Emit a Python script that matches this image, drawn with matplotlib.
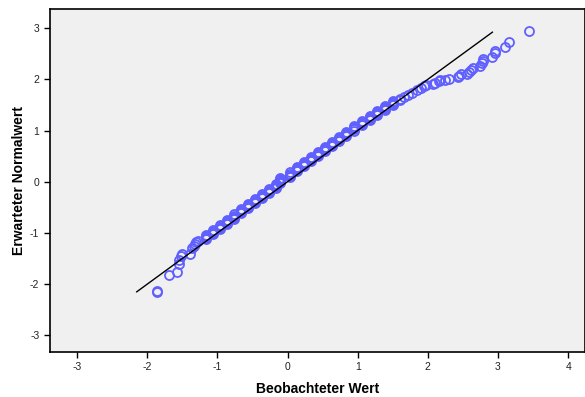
import matplotlib.pyplot as plt
import numpy as np

plt.rcParams['font.family'] = ['Liberation Sans', 'DejaVu Sans']
plt.rcParams['axes.unicode_minus'] = False

# Q-Q-Diagramm: beobachtete Werte gegen erwartete Normalwerte
# unteres Ende (einzelne Punkte)
obs_low = [-1.86, -1.86, -1.69, -1.57, -1.55, -1.55, -1.52, -1.50, -1.39, -1.36, -1.34, -1.32, -1.30, -1.27]
exp_low = [-2.14, -2.15, -1.83, -1.76, -1.61, -1.52, -1.45, -1.42, -1.42, -1.30, -1.26, -1.22, -1.18, -1.15]

# dichter Mittelteil: gleiche beobachtete Werte (Bindungen) mit mehreren erwarteten Werten
obs_mid = [-1.16, -1.06, -0.96, -0.86, -0.76, -0.66, -0.56, -0.46, -0.36, -0.26, -0.16, -0.11,
           0.03, 0.13, 0.23, 0.33, 0.43, 0.53, 0.63, 0.73, 0.84, 0.95, 1.06, 1.17, 1.28, 1.39,
           1.50, 1.60]
exp_mid = [[-1.12, -1.10, -1.08, -1.06, -1.04],
           [-1.02, -1.00, -0.98, -0.96, -0.94],
           [-0.92, -0.90, -0.88, -0.86, -0.84],
           [-0.82, -0.80, -0.78, -0.76, -0.74],
           [-0.72, -0.70, -0.68, -0.66, -0.64],
           [-0.62, -0.60, -0.58, -0.56, -0.54],
           [-0.52, -0.50, -0.48, -0.46, -0.44],
           [-0.42, -0.40, -0.38, -0.36, -0.34],
           [-0.32, -0.30, -0.28, -0.26, -0.24],
           [-0.22, -0.20, -0.18, -0.16, -0.14],
           [-0.12, -0.10, -0.08, -0.06, -0.04],
           [-0.02, 0.00, 0.02, 0.04, 0.06, 0.08],
           [0.10, 0.12, 0.14, 0.16, 0.18],
           [0.20, 0.22, 0.24, 0.26, 0.28],
           [0.30, 0.32, 0.34, 0.36, 0.38],
           [0.40, 0.42, 0.44, 0.46, 0.48],
           [0.50, 0.52, 0.54, 0.56, 0.58],
           [0.60, 0.62, 0.64, 0.66, 0.68],
           [0.70, 0.72, 0.74, 0.76, 0.78],
           [0.80, 0.82, 0.84, 0.86, 0.88],
           [0.90, 0.92, 0.94, 0.96, 0.98],
           [1.00, 1.02, 1.04, 1.06, 1.08],
           [1.10, 1.12, 1.14, 1.16, 1.18],
           [1.20, 1.22, 1.24, 1.26, 1.28],
           [1.30, 1.32, 1.34, 1.36, 1.38],
           [1.40, 1.42, 1.44, 1.46, 1.48],
           [1.50, 1.52, 1.54, 1.56, 1.58],
           [1.60, 1.62]]

# oberes Ende (einzelne Punkte)
obs_high = [1.66, 1.72, 1.78, 1.84, 1.90, 1.94, 1.98, 2.07, 2.10, 2.16, 2.18, 2.24, 2.30,
            2.43, 2.45, 2.47, 2.56, 2.59, 2.61, 2.64, 2.74, 2.77, 2.78, 2.78, 2.92, 2.95,
            2.96, 3.10, 3.16, 3.44]
exp_high = [1.65, 1.70, 1.74, 1.79, 1.83, 1.87, 1.89, 1.91, 1.93, 1.96, 1.98, 1.99, 2.01,
            2.04, 2.07, 2.11, 2.11, 2.14, 2.19, 2.23, 2.25, 2.32, 2.35, 2.40, 2.43, 2.51,
            2.56, 2.63, 2.72, 2.95]

line_ends = [-2.15, 2.92]

mid_x = [x for x, ys in zip(obs_mid, exp_mid) for _ in ys]
mid_y = [y for ys in exp_mid for y in ys]
obs = np.array(obs_low + mid_x + obs_high)
exp = np.array(exp_low + mid_y + exp_high)

fig = plt.figure(figsize=(5.85, 3.97), dpi=100)
ax = fig.add_axes([0.085, 0.114, 0.915, 0.863])
ax.set_facecolor('#f0f0f0')

ax.plot(obs, exp, 'o', mfc='none', mec='#6060ff', ms=6.5, mew=1.3, zorder=2)
ax.plot(line_ends, line_ends, color='black', lw=1, zorder=3)

ax.set_xlim(-3.39, 4.24)
ax.set_ylim(-3.32, 3.37)
ax.set_xticks(range(-3, 5))
ax.set_yticks(range(-3, 4))
ax.tick_params(direction='out', length=4, width=1, labelsize=7.5, colors='black', labelcolor='#222222')
for s in ax.spines.values():
    s.set_linewidth(1.2)

ax.set_xlabel('Beobachteter Wert', fontsize=10, fontweight='bold', labelpad=7)
ax.set_ylabel('Erwarteter Normalwert', fontsize=10, fontweight='bold')
ax.yaxis.set_label_coords(-0.045, 0.5)

plt.savefig('out.png', dpi=100)
